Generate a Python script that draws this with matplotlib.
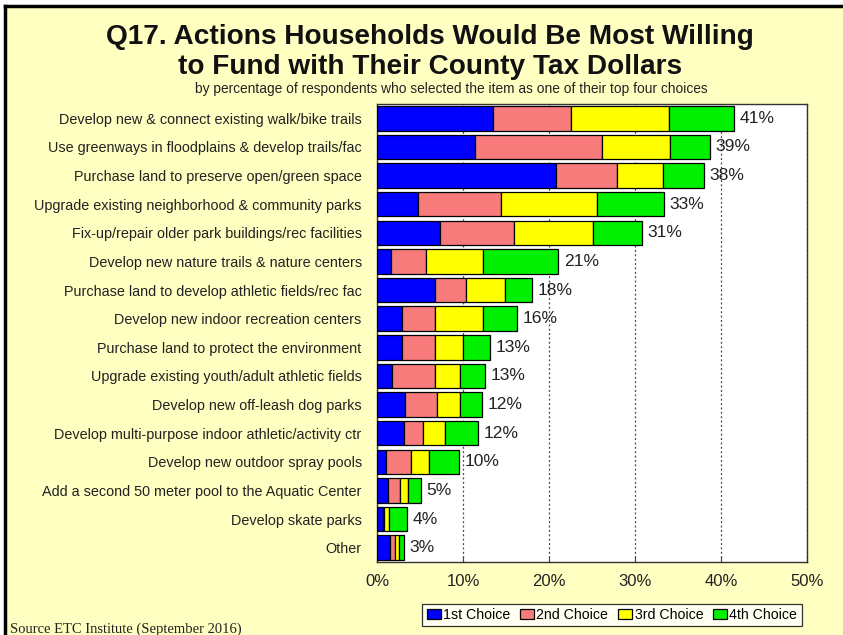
import matplotlib
matplotlib.use("Agg")
import matplotlib.pyplot as plt
import numpy as np
from matplotlib.patches import Rectangle
from matplotlib.lines import Line2D

plt.rcParams['font.family'] = ['Liberation Sans', 'DejaVu Sans']

# survey items, top to bottom
items = [
    "Develop new & connect existing walk/bike trails",
    "Use greenways in floodplains & develop trails/fac",
    "Purchase land to preserve open/green space",
    "Upgrade existing neighborhood & community parks",
    "Fix-up/repair older park buildings/rec facilities",
    "Develop new nature trails & nature centers",
    "Purchase land to develop athletic fields/rec fac",
    "Develop new indoor recreation centers",
    "Purchase land to protect the environment",
    "Upgrade existing youth/adult athletic fields",
    "Develop new off-leash dog parks",
    "Develop multi-purpose indoor athletic/activity ctr",
    "Develop new outdoor spray pools",
    "Add a second 50 meter pool to the Aquatic Center",
    "Develop skate parks",
    "Other",
]

first = [13.5, 11.4, 20.8, 4.8, 7.3, 1.6, 6.7, 2.9, 2.9, 1.7, 3.3, 3.1, 1.1, 1.3, 0.7, 1.5]
second = [9.1, 14.8, 7.1, 9.6, 8.6, 4.1, 3.7, 3.8, 3.8, 5.0, 3.7, 2.3, 2.9, 1.4, 0.1, 0.6]
third = [11.3, 7.9, 5.4, 11.2, 9.2, 6.6, 4.5, 5.6, 3.3, 2.9, 2.7, 2.5, 2.0, 0.9, 0.6, 0.5]
fourth = [7.6, 4.6, 4.7, 7.8, 5.7, 8.8, 3.1, 4.0, 3.1, 3.0, 2.5, 3.9, 3.5, 1.5, 2.1, 0.5]
totals = [41, 39, 38, 33, 31, 21, 18, 16, 13, 13, 12, 12, 10, 5, 4, 3]

series = [first, second, third, fourth]
series_names = ["1st Choice", "2nd Choice", "3rd Choice", "4th Choice"]
colors = ["#0000FF", "#F87B7B", "#FFFF00", "#00F000"]

W, H = 843, 635
fig = plt.figure(figsize=(W / 100, H / 100), dpi=100)
fig.patch.set_facecolor("white")

# yellow panel with a black frame line on top and left
fig.patches.append(Rectangle((5 / W, 0), 1, 1 - 6 / H, transform=fig.transFigure,
                             facecolor="#FFFFC2", edgecolor="none", zorder=-2))
fig.lines.append(Line2D([5 / W, 1], [1 - 6 / H, 1 - 6 / H], transform=fig.transFigure,
                        color="black", lw=2.5, zorder=-1))
fig.lines.append(Line2D([5 / W, 5 / W], [0, 1 - 6 / H], transform=fig.transFigure,
                        color="black", lw=2.5, zorder=-1))

ax = fig.add_axes([377 / W, 1 - 562 / H, 430 / W, 458 / H])
ax.set_facecolor("white")

y = np.arange(len(items))
left = np.zeros(len(items))
for vals, name, c in zip(series, series_names, colors):
    ax.barh(y, vals, left=left, height=0.86, color=c, edgecolor="black",
            linewidth=0.9, label=name, zorder=3)
    left += np.array(vals)

for yi, end, t in zip(y, left, totals):
    ax.text(end + 0.65, yi, f"{t}%", va="center", ha="left", fontsize=12.6, color="#222222", zorder=4)

ax.set_xlim(0, 50)
ax.set_ylim(len(items) - 0.5, -0.5)
ax.set_xticks(np.arange(0, 51, 10))
ax.set_xticklabels([f"{v}%" for v in range(0, 51, 10)], fontsize=12, color="#222222")
ax.set_yticks(y)
ax.set_yticklabels(items, fontsize=10.4, color="#222222")
ax.tick_params(axis="y", length=0, pad=11)
ax.tick_params(axis="x", direction="in", length=4, pad=9, color="#444444")
ax.grid(axis="x", linestyle=(0, (1.5, 2)), color="#444444", linewidth=0.9, zorder=1)
for s in ax.spines.values():
    s.set_color("#333333")
    s.set_linewidth(1.0)

fig.text(430 / W, 1 - 37 / H, "Q17. Actions Households Would Be Most Willing",
         ha="center", va="center", fontsize=20.2, fontweight="bold", color="#111111")
fig.text(430 / W, 1 - 67 / H, "to Fund with Their County Tax Dollars",
         ha="center", va="center", fontsize=20.2, fontweight="bold", color="#111111")
fig.text(451 / W, 1 - 89 / H,
         "by percentage of respondents who selected the item as one of their top four choices",
         ha="center", va="center", fontsize=9.9, color="#222222")

leg = fig.legend(loc="center", bbox_to_anchor=(612 / W, 1 - 615 / H), ncol=4,
                 fontsize=10.2, frameon=True, fancybox=False, edgecolor="black",
                 handlelength=1.0, handleheight=0.7, handletextpad=0.15,
                 columnspacing=0.7, borderpad=0.3, borderaxespad=0)
leg.get_frame().set_linewidth(0.9)

fig.text(10 / W, 1 - 629 / H, "Source ETC Institute (September 2016)",
         ha="left", va="center", fontsize=10.5, family="Liberation Serif", color="#222222")

fig.savefig("out.png", dpi=100, facecolor=fig.get_facecolor())
